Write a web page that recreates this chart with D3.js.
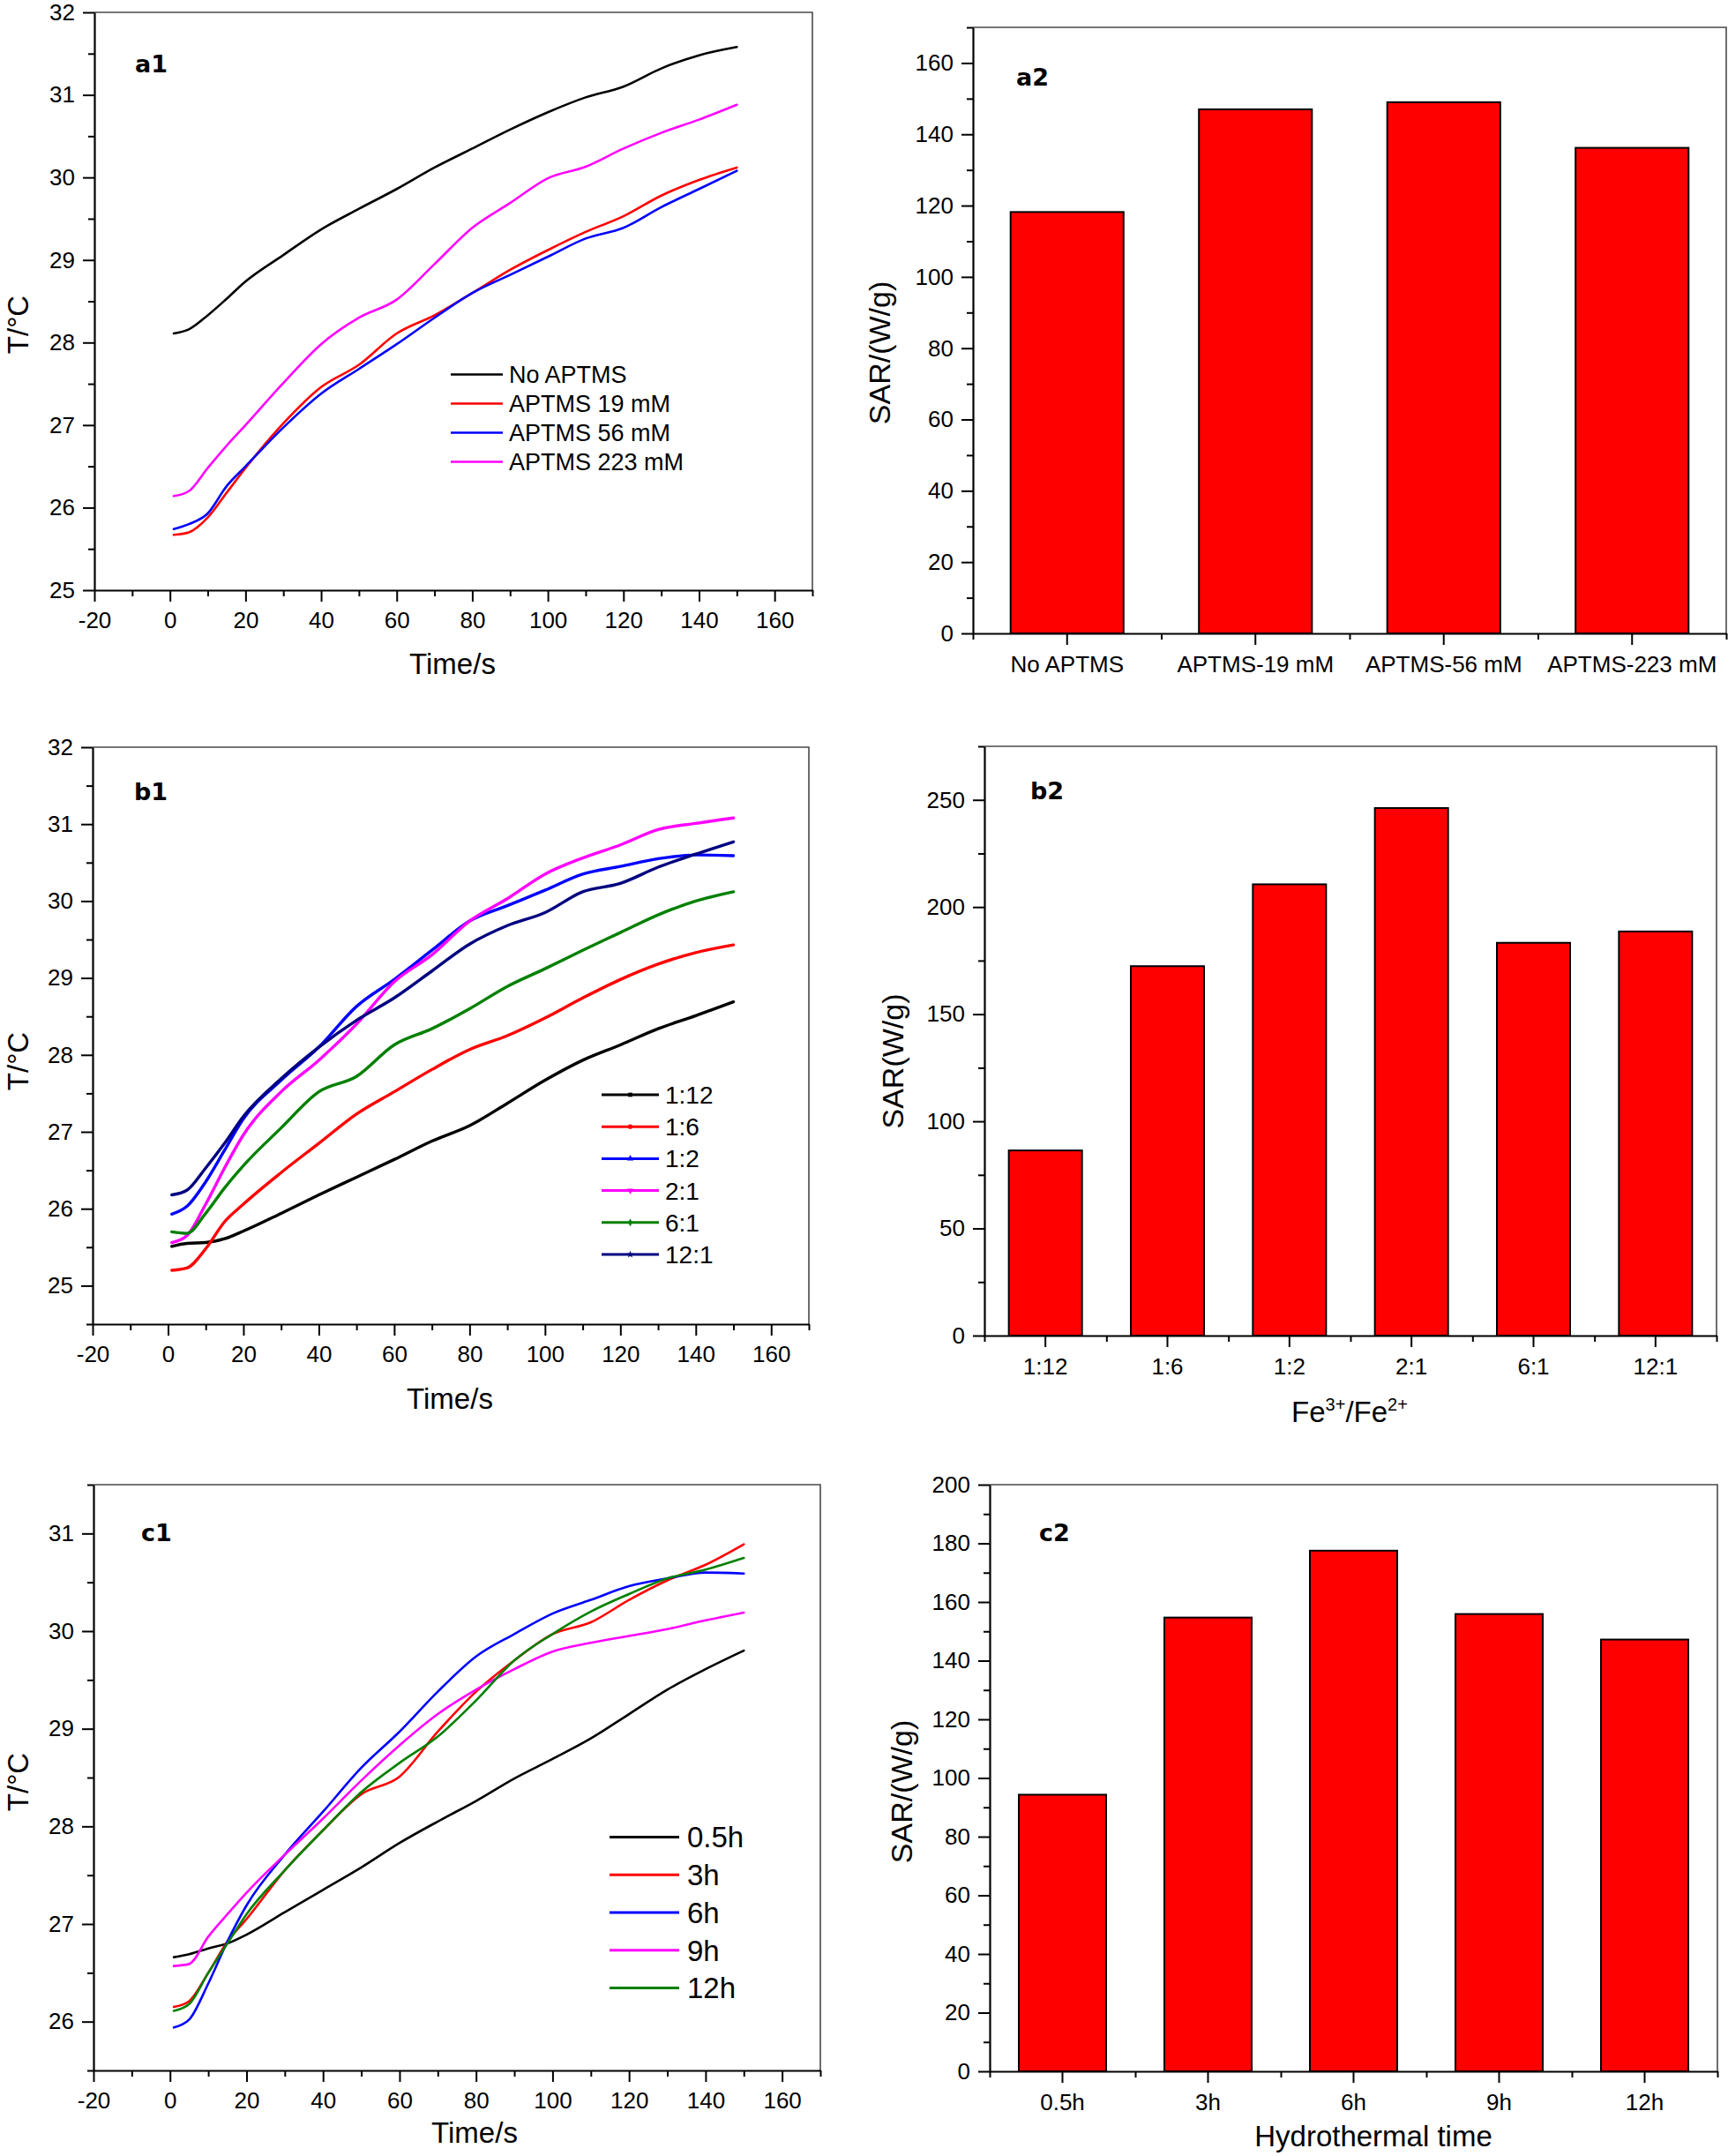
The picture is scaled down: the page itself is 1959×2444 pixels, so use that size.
<!DOCTYPE html>
<html><head><meta charset="utf-8">
<script src="https://cdn.jsdelivr.net/npm/d3@7"></script>
<style>
body{margin:0;background:#fff}
svg{display:block}
</style>
</head><body>
<svg id="fig" width="1959" height="2444"></svg>
<script>
// ---------------- DATA ----------------
const timeTicks = [-20, 0, 20, 40, 60, 80, 100, 120, 140, 160];

// Panel a1
const a1Time = [1,5,10,15,20,30,40,50,60,70,80,90,100,110,120,130,140,150];
const a1Names = ["No APTMS", "APTMS 19 mM", "APTMS 56 mM", "APTMS 223 mM"];
const a1NoAPTMS   = [28.11,28.16,28.33,28.53,28.74,29.06,29.37,29.62,29.86,30.12,30.35,30.58,30.79,30.97,31.10,31.32,31.48,31.58];
const a1APTMS19   = [25.67,25.70,25.88,26.18,26.48,27.02,27.46,27.73,28.11,28.33,28.60,28.88,29.12,29.34,29.53,29.78,29.97,30.12];
const a1APTMS56   = [25.74,25.80,25.93,26.26,26.50,26.97,27.38,27.68,27.98,28.30,28.60,28.82,29.04,29.26,29.39,29.64,29.86,30.08];
const a1APTMS223  = [26.14,26.20,26.48,26.75,27.00,27.51,27.98,28.30,28.52,28.95,29.39,29.69,29.99,30.13,30.35,30.54,30.70,30.88];
const a1YTicks = [25, 26, 27, 28, 29, 30, 31, 32];

// Panel a2
const a2Categories = ["No APTMS", "APTMS-19 mM", "APTMS-56 mM", "APTMS-223 mM"];
const a2SAR = [118.2, 147.0, 149.0, 136.2];
const a2YTicks = [0, 20, 40, 60, 80, 100, 120, 140, 160];

// Panel b1
const b1Time = [1,5,10,15,20,30,40,50,60,70,80,90,100,110,120,130,140,150];
const b1Names = ["1:12", "1:6", "1:2", "2:1", "6:1", "12:1"];
const b1R1_12 = [25.51,25.55,25.56,25.61,25.71,25.94,26.18,26.41,26.64,26.88,27.08,27.37,27.67,27.93,28.13,28.34,28.51,28.69];
const b1R1_6  = [25.20,25.23,25.48,25.83,26.06,26.47,26.85,27.23,27.52,27.81,28.07,28.25,28.48,28.74,28.98,29.18,29.33,29.43];
const b1R1_2  = [25.93,26.03,26.35,26.76,27.17,27.67,28.10,28.63,28.98,29.36,29.74,29.94,30.14,30.35,30.45,30.55,30.60,30.59];
const b1R2_1  = [25.56,25.65,26.06,26.53,26.96,27.52,27.93,28.40,28.95,29.30,29.74,30.03,30.35,30.56,30.73,30.93,31.01,31.08];
const b1R6_1  = [25.70,25.68,25.94,26.27,26.56,27.05,27.52,27.72,28.13,28.34,28.60,28.89,29.12,29.36,29.59,29.82,30.00,30.12];
const b1R12_1 = [26.18,26.24,26.53,26.85,27.20,27.69,28.10,28.45,28.74,29.09,29.44,29.68,29.85,30.12,30.23,30.44,30.61,30.77];
const b1YTicks = [25, 26, 27, 28, 29, 30, 31, 32];

// Panel b2
const b2Categories = ["1:12", "1:6", "1:2", "2:1", "6:1", "12:1"];
const b2SAR = [86.4, 172.4, 210.6, 246.2, 183.3, 188.6];
const b2YTicks = [0, 50, 100, 150, 200, 250];

// Panel c1
const c1Time = [1,5,10,15,20,30,40,50,60,70,80,90,100,110,120,130,140,150];
const c1Names = ["0.5h", "3h", "6h", "9h", "12h"];
const c1H05 = [26.66,26.69,26.75,26.80,26.89,27.12,27.35,27.58,27.83,28.05,28.26,28.49,28.69,28.90,29.15,29.40,29.61,29.80];
const c1H3  = [26.15,26.21,26.50,26.82,27.05,27.55,27.96,28.33,28.51,28.97,29.38,29.70,29.97,30.09,30.32,30.52,30.68,30.89];
const c1H6  = [25.94,26.02,26.39,26.82,27.19,27.71,28.15,28.60,28.97,29.38,29.74,29.97,30.18,30.32,30.46,30.54,30.60,30.59];
const c1H9  = [26.57,26.59,26.87,27.10,27.32,27.71,28.08,28.47,28.83,29.15,29.40,29.61,29.79,29.88,29.95,30.02,30.11,30.19];
const c1H12 = [26.11,26.18,26.50,26.80,27.10,27.55,27.96,28.35,28.65,28.92,29.29,29.70,29.97,30.20,30.38,30.54,30.63,30.75];
const c1YTicks = [26, 27, 28, 29, 30, 31];

// Panel c2
const c2Categories = ["0.5h", "3h", "6h", "9h", "12h"];
const c2SAR = [94.3, 154.7, 177.5, 155.9, 147.2];
const c2YTicks = [0, 20, 40, 60, 80, 100, 120, 140, 160, 180, 200];

// ---------------- DRAWING ----------------
const FONT = "'Liberation Sans', Arial, sans-serif";
const plainFmt = d => String(d);
const svg = d3.select("#fig");
svg.append("rect").attr("width", 1959).attr("height", 2444).attr("fill", "#fff");

function minorBetween(major, step, lo, hi) {
  const out = [];
  const all = [];
  for (let v = lo; v <= hi + 1e-9; v += step) all.push(+v.toFixed(6));
  all.forEach(v => { if (!major.some(m => Math.abs(m - v) < 1e-6)) out.push(v); });
  return out;
}

function styleAxis(sel, fs) {
  sel.attr("font-family", FONT).attr("font-size", fs);
  sel.selectAll("line").attr("stroke", "#000").attr("stroke-width", 2);
  sel.selectAll("path").attr("stroke", "#000").attr("stroke-width", 2.2);
  sel.selectAll("text").attr("fill", "#000");
}

function frame(g, p) {
  g.append("path")
    .attr("d", `M${p.left},${p.top}H${p.right}V${p.bottom}`)
    .attr("fill", "none").attr("stroke", "#4a4a4a").attr("stroke-width", 1.6);
}

function yAxes(g, p, y) {
  g.append("g").attr("transform", `translate(${p.left},0)`)
    .call(d3.axisLeft(y).tickValues(p.yMinor).tickSize(7).tickFormat(""))
    .call(s => { s.select(".domain").remove(); styleAxis(s, 26); });
  g.append("g").attr("transform", `translate(${p.left},0)`)
    .call(d3.axisLeft(y).tickValues(p.yTicks).tickFormat(plainFmt).tickSize(13).tickSizeOuter(0).tickPadding(9))
    .call(s => styleAxis(s, 26));
}

function panelLabel(g, txt, x, y) {
  g.append("text").attr("x", x).attr("y", y).text(txt)
    .attr("font-family", "'DejaVu Sans', sans-serif").attr("font-weight", "bold")
    .attr("font-size", 27).attr("fill", "#000");
}

function yTitle(g, txt, x, y, fs) {
  g.append("text").attr("transform", `translate(${x},${y}) rotate(-90)`)
    .attr("text-anchor", "middle").attr("dominant-baseline", "central")
    .attr("font-family", FONT).attr("font-size", fs).attr("fill", "#000").text(txt);
}

function xTitle(g, txt, x, y, fs) {
  return g.append("text").attr("x", x).attr("y", y).attr("text-anchor", "middle")
    .attr("font-family", FONT).attr("font-size", fs).attr("fill", "#000").text(txt);
}

function drawLinePanel(p) {
  const g = svg.append("g");
  const x = d3.scaleLinear().domain([-20, 170]).range([p.left, p.right]);
  const y = d3.scaleLinear().domain(p.yDomain).range([p.bottom, p.top]);

  // curves
  p.series.forEach(s => {
    const line = d3.line().x((d, i) => x(p.time[i])).y(d => y(d)).curve(d3.curveMonotoneX);
    g.append("path").datum(s.values).attr("d", line)
      .attr("fill", "none").attr("stroke", s.color).attr("stroke-width", p.lineWidth)
      .attr("stroke-linejoin", "round").attr("stroke-linecap", "round");
  });

  frame(g, p);
  // x axis
  const xMinor = minorBetween(timeTicks, 10, -20, 170);
  g.append("g").attr("transform", `translate(0,${p.bottom})`)
    .call(d3.axisBottom(x).tickValues(xMinor).tickSize(7).tickFormat(""))
    .call(s => { s.select(".domain").remove(); styleAxis(s, 26); });
  g.append("g").attr("transform", `translate(0,${p.bottom})`)
    .call(d3.axisBottom(x).tickValues(timeTicks).tickFormat(plainFmt).tickSize(13).tickSizeOuter(0).tickPadding(12))
    .call(s => styleAxis(s, 26));
  yAxes(g, p, y);

  // legend
  const L = p.legend;
  p.series.forEach((s, i) => {
    const yy = L.y0 + i * L.dy;
    g.append("line").attr("x1", L.x1).attr("x2", L.x2).attr("y1", yy).attr("y2", yy)
      .attr("stroke", s.color).attr("stroke-width", L.sw);
    if (s.symbol) {
      g.append("path").attr("d", d3.symbol().type(s.symbol).size(22)())
        .attr("transform", `translate(${(L.x1 + L.x2) / 2},${yy})${s.rot ? " rotate(180)" : ""}`)
        .attr("fill", s.color);
    }
    g.append("text").attr("x", L.tx).attr("y", yy).attr("dy", "0.36em")
      .attr("font-family", FONT).attr("font-size", L.fs).attr("fill", "#000").text(s.name);
  });

  panelLabel(g, p.label, p.labelX, p.labelY);
  xTitle(g, "Time/s", p.xTitleX, p.xTitleY, 33);
  yTitle(g, "T/\u00B0C", p.yTitleX, p.yTitleY, 33);
}

function drawBarPanel(p) {
  const g = svg.append("g");
  const n = p.categories.length;
  const xb = d3.scaleBand().domain(p.categories).range([p.left, p.right]).paddingInner(0.4).paddingOuter(0.2);
  const xl = d3.scaleLinear().domain([0, n]).range([p.left, p.right]);
  const y = d3.scaleLinear().domain(p.yDomain).range([p.bottom, p.top]);

  g.selectAll("rect.bar").data(p.values).enter().append("rect")
    .attr("x", (d, i) => xb(p.categories[i])).attr("width", xb.bandwidth())
    .attr("y", d => y(d)).attr("height", d => y(0) - y(d))
    .attr("fill", "#ff0000").attr("stroke", "#000").attr("stroke-width", 2);

  frame(g, p);
  g.append("g").attr("transform", `translate(0,${p.bottom})`)
    .call(d3.axisBottom(xl).tickValues(d3.range(n + 1)).tickSize(7).tickFormat(""))
    .call(s => { s.select(".domain").remove(); styleAxis(s, 26); });
  g.append("g").attr("transform", `translate(0,${p.bottom})`)
    .call(d3.axisBottom(xb).tickSize(13).tickSizeOuter(0).tickPadding(13))
    .call(s => styleAxis(s, 26));
  yAxes(g, p, y);

  panelLabel(g, p.label, p.labelX, p.labelY);
  yTitle(g, p.yTitle, p.yTitleX, p.yTitleY, 34);
  return g;
}

// ---- a1 ----
drawLinePanel({
  left: 107, right: 921, top: 14, bottom: 669,
  yDomain: [25, 32], yTicks: a1YTicks, yMinor: minorBetween(a1YTicks, 0.5, 25, 32),
  time: a1Time, lineWidth: 2.6,
  series: [
    { name: a1Names[0], values: a1NoAPTMS, color: "#000000" },
    { name: a1Names[1], values: a1APTMS19, color: "#ff0000" },
    { name: a1Names[2], values: a1APTMS56, color: "#0000ff" },
    { name: a1Names[3], values: a1APTMS223, color: "#ff00ff" }
  ],
  legend: { x1: 511, x2: 570, tx: 577, y0: 424.5, dy: 33, fs: 27, sw: 2.6 },
  label: "a1", labelX: 153, labelY: 82,
  xTitleX: 513, xTitleY: 764, yTitleX: 20, yTitleY: 368
});

// ---- b1 ----
drawLinePanel({
  left: 105, right: 917, top: 847, bottom: 1501,
  yDomain: [24.5, 32], yTicks: b1YTicks, yMinor: minorBetween(b1YTicks, 0.5, 24.5, 32),
  time: b1Time, lineWidth: 3.4,
  series: [
    { name: b1Names[0], values: b1R1_12, color: "#000000", symbol: d3.symbolSquare },
    { name: b1Names[1], values: b1R1_6,  color: "#ff0000", symbol: d3.symbolCircle },
    { name: b1Names[2], values: b1R1_2,  color: "#0000ff", symbol: d3.symbolTriangle },
    { name: b1Names[3], values: b1R2_1,  color: "#ff00ff", symbol: d3.symbolTriangle, rot: true },
    { name: b1Names[4], values: b1R6_1,  color: "#008000", symbol: d3.symbolDiamond },
    { name: b1Names[5], values: b1R12_1, color: "#000080", symbol: d3.symbolStar }
  ],
  legend: { x1: 682, x2: 747, tx: 754, y0: 1241, dy: 36.2, fs: 28, sw: 3 },
  label: "b1", labelX: 152, labelY: 907,
  xTitleX: 510, xTitleY: 1597, yTitleX: 20, yTitleY: 1203
});

// ---- c1 ----
drawLinePanel({
  left: 106, right: 930, top: 1683, bottom: 2347,
  yDomain: [25.5, 31.5], yTicks: c1YTicks, yMinor: minorBetween(c1YTicks, 0.5, 25.5, 31.5),
  time: c1Time, lineWidth: 2.6,
  series: [
    { name: c1Names[0], values: c1H05, color: "#000000" },
    { name: c1Names[1], values: c1H3,  color: "#ff0000" },
    { name: c1Names[2], values: c1H6,  color: "#0000ff" },
    { name: c1Names[3], values: c1H9,  color: "#ff00ff" },
    { name: c1Names[4], values: c1H12, color: "#008000" }
  ],
  legend: { x1: 691, x2: 770, tx: 779, y0: 2082.5, dy: 42.75, fs: 33, sw: 3 },
  label: "c1", labelX: 160, labelY: 1747,
  xTitleX: 538, xTitleY: 2429, yTitleX: 20, yTitleY: 2020
});

// ---- a2 ----
drawBarPanel({
  left: 1103, right: 1957, top: 31, bottom: 718,
  yDomain: [0, 170], yTicks: a2YTicks, yMinor: minorBetween(a2YTicks, 10, 0, 170),
  categories: a2Categories, values: a2SAR,
  label: "a2", labelX: 1152, labelY: 97,
  yTitle: "SAR/(W/g)", yTitleX: 997, yTitleY: 400
});

// ---- b2 ----
const gb2 = drawBarPanel({
  left: 1116, right: 1946, top: 846, bottom: 1514,
  yDomain: [0, 275], yTicks: b2YTicks, yMinor: minorBetween(b2YTicks, 25, 0, 275),
  categories: b2Categories, values: b2SAR,
  label: "b2", labelX: 1168, labelY: 906,
  yTitle: "SAR(W/g)", yTitleX: 1012, yTitleY: 1203
});
const fe = xTitle(gb2, "", 1530, 1612, 33);
fe.append("tspan").text("Fe");
fe.append("tspan").attr("dy", -13).attr("font-size", 20).text("3+");
fe.append("tspan").attr("dy", 13).text("/Fe");
fe.append("tspan").attr("dy", -13).attr("font-size", 20).text("2+");

// ---- c2 ----
const gc2 = drawBarPanel({
  left: 1122, right: 1947, top: 1683, bottom: 2348,
  yDomain: [0, 200], yTicks: c2YTicks, yMinor: minorBetween(c2YTicks, 10, 0, 200),
  categories: c2Categories, values: c2SAR,
  label: "c2", labelX: 1178, labelY: 1747,
  yTitle: "SAR/(W/g)", yTitleX: 1022, yTitleY: 2031
});
xTitle(gc2, "Hydrothermal time", 1557, 2433, 33);
</script>
</body></html>
